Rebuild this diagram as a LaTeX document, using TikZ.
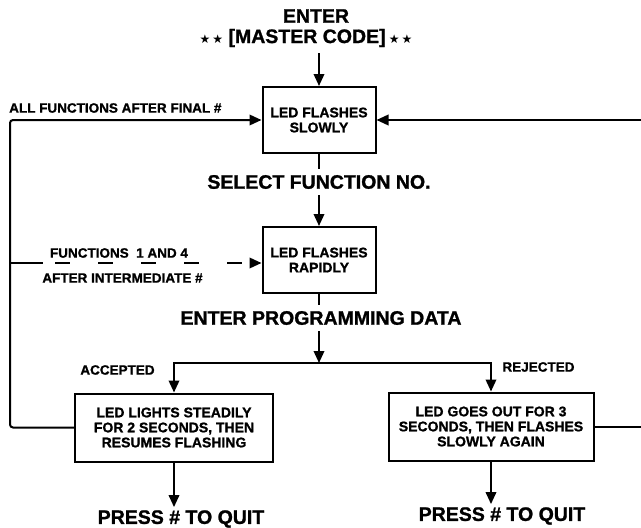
\documentclass[tikz,border=0pt]{standalone}
\usepackage{fontspec}
\setmainfont{Liberation Sans}[BoldFeatures={FakeBold=1.2}]
\newfontfamily\starfont{DejaVu Sans}
\usetikzlibrary{arrows.meta, positioning}

\newcommand{\starpair}{{\starfont\fontsize{12}{12}\selectfont ★\,★}}

\begin{document}
\begin{tikzpicture}[x=1pt, y=-1pt,
    box/.style={rectangle, draw, line width=2pt, align=center, inner sep=0pt, minimum width=113pt, minimum height=66pt, font=\fontsize{14}{15}\selectfont\bfseries},
    widebox/.style={box, minimum width=198pt, minimum height=68pt},
    steplabel/.style={font=\fontsize{19.5}{21}\selectfont\bfseries, inner sep=6pt},
    quitlabel/.style={font=\fontsize{19.5}{21}\selectfont\bfseries, inner sep=3pt},
    sidelabel/.style={font=\fontsize{13.5}{15}\selectfont\bfseries, inner sep=0pt},
    arrow/.style={-{Triangle[length=12pt, width=10.5pt]}, line width=2pt},
    link/.style={line width=2pt}
]

\useasboundingbox (0,0) rectangle (641,528);

% boxes
\node (slow) [box] at (319,120) {LED FLASHES\\SLOWLY};
\node (rapid) [box] at (319,260) {LED FLASHES\\RAPIDLY};
\node (steady) [widebox] at (174,427.5) {LED LIGHTS STEADILY\\FOR 2 SECONDS, THEN\\RESUMES FLASHING};
\node (goesout) [widebox, minimum width=205pt] at (491,426.5) {LED GOES OUT FOR 3\\SECONDS, THEN FLASHES\\SLOWLY AGAIN};

% step texts
\node (enter) [steplabel, inner sep=0pt] at (316,16) {ENTER};
\node (master) [steplabel] at (306,38) {\starpair\ [MASTER CODE]\,\starpair};
\node (selfn) [steplabel] at (319,182) {SELECT FUNCTION NO.};
\node (progdata) [steplabel] at (321,318) {ENTER PROGRAMMING DATA};
\node (quitA) [quitlabel] at (181,519) {PRESS \# TO QUIT};
\node (quitB) [quitlabel] at (502,516) {PRESS \# TO QUIT};

% side texts
\node (allfn) [sidelabel, anchor=west] at (9,108) {ALL FUNCTIONS AFTER FINAL \#};
\node (fnonefour) [sidelabel] at (119,253) {FUNCTIONS\ \ 1 AND 4};
\node (interm) [sidelabel] at (122.5,278) {AFTER INTERMEDIATE \#};
\node (acc) [sidelabel] at (117.5,370) {ACCEPTED};
\node (rej) [sidelabel] at (538.5,367) {REJECTED};

\coordinate (leftrail) at (10,0);
\coordinate (rightrail) at (646,0);
\coordinate (dashstart) at (43,263);
\coordinate (branch) at (319,363);

% main line
\draw [arrow] (slow.north |- master.south) -- (slow.north);
\draw [link] (slow.south) -- (slow.south |- selfn.north);
\draw [arrow] (rapid.north |- selfn.south) -- (rapid.north);
\draw [link] (rapid.south) -- (rapid.south |- progdata.north);
\draw [arrow] (branch |- progdata.south) -- (branch);
\draw [arrow] (branch) -| (steady);
\draw [arrow] (branch) -| (goesout);
\draw [arrow] (steady.south) -- (steady.south |- quitA.north);
\draw [arrow] (goesout.south) -- (goesout.south |- quitB.north);

% loops back
\draw [arrow, rounded corners=3pt] (steady.west) -| (leftrail |- slow.west) -- (slow.west);
\draw [arrow] (goesout.east) -| (rightrail |- slow.east) -- (slow.east);
\draw [link] (leftrail |- dashstart) -- (dashstart);
\draw [arrow, dash pattern=on 15pt off 28pt, dash phase=31pt] (dashstart) -- (dashstart -| rapid.west);

\end{tikzpicture}
\end{document}
